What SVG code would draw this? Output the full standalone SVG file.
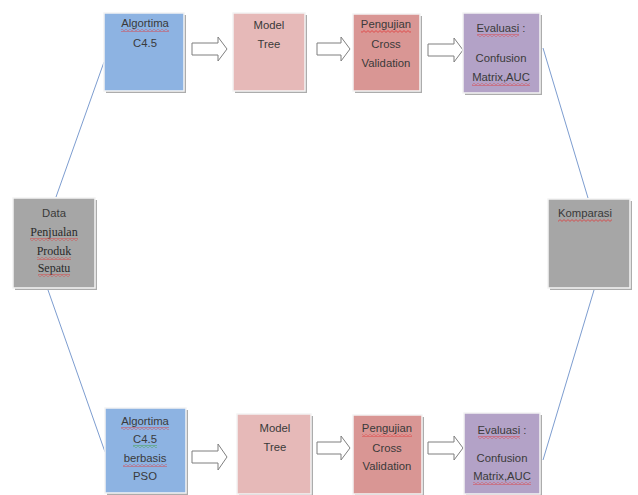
<svg xmlns="http://www.w3.org/2000/svg" width="638" height="495" viewBox="0 0 638 495">
<style>
.sh{fill:#acacac}
.bx{stroke:#f4f4f4;stroke-width:1.5}
.blue{fill:#8db3e2}
.pink{fill:#e6b9b8}
.rose{fill:#d99694}
.lilac{fill:#b3a2c7}
.grey{fill:#a6a6a6}
.t{font-family:"Liberation Sans",Arial,sans-serif;font-size:11.3px;fill:#3a3a3a;text-anchor:middle}
.s{font-family:"Liberation Serif","Times New Roman",serif;font-size:12px;fill:#2a2a2a;text-anchor:middle}
.arr{fill:#ffffff;stroke:#7f7f7f;stroke-width:1}
.con{stroke:#7d9dd0;stroke-width:1;fill:none}
.sq{fill:url(#sqp)}
.sqg{fill:url(#sqg)}
</style>
<defs>
<pattern id="sqp" width="4" height="3" patternUnits="userSpaceOnUse">
<path d="M0,0.6 L2,2.4 L4,0.6" fill="none" stroke="#e03a3a" stroke-width="0.8"/>
</pattern>
<pattern id="sqg" width="4" height="3" patternUnits="userSpaceOnUse">
<path d="M0,0.6 L2,2.4 L4,0.6" fill="none" stroke="#3aa03a" stroke-width="0.8"/>
</pattern>
</defs>
<rect width="638" height="495" fill="#ffffff"/>

<g id="connectors">
<line class="con" x1="104" y1="62" x2="56" y2="197"/>
<line class="con" x1="48" y1="290" x2="105" y2="452"/>
<line class="con" x1="543" y1="48" x2="588" y2="198"/>
<line class="con" x1="594" y1="290" x2="543" y2="460"/>
<path class="arr" d="M192,43 H218 V37 L227,49 L218,61 V55 H192 Z"/>
<path class="arr" d="M317,43 H341 V37 L350,49 L341,61 V55 H317 Z"/>
<path class="arr" d="M428,44 H454 V38 L463,50 L454,62 V56 H428 Z"/>
<path class="arr" d="M192,451 H218 V444 L227,457 L218,470 V463 H192 Z"/>
<path class="arr" d="M317,442 H341 V436 L350,448 L341,460 V454 H317 Z"/>
<path class="arr" d="M428,442 H454 V436 L463,448 L454,460 V454 H428 Z"/>
</g>

<g id="algo-top">
<rect class="sh" x="106" y="15" width="80" height="78"/>
<rect class="bx blue" x="104" y="13" width="80" height="78"/>
<text class="t" x="145" y="27">Algortima</text>
<text class="t" x="145" y="47">C4.5</text>
<rect class="sq" x="121" y="29" width="48" height="3"/>
</g>

<g id="model-top">
<rect class="sh" x="235" y="15" width="72" height="78"/>
<rect class="bx pink" x="233" y="13" width="72" height="78"/>
<text class="t" x="269" y="29">Model</text>
<text class="t" x="269" y="48">Tree</text>
</g>

<g id="uji-top">
<rect class="sh" x="355" y="16" width="67" height="77"/>
<rect class="bx rose" x="353" y="14" width="67" height="77"/>
<text class="t" x="386" y="28">Pengujian</text>
<text class="t" x="386" y="48">Cross</text>
<text class="t" x="386" y="67">Validation</text>
<rect class="sq" x="361" y="30" width="50" height="3"/>
</g>

<g id="eval-top">
<rect class="sh" x="465" y="15" width="77" height="80"/>
<rect class="bx lilac" x="463" y="13" width="77" height="80"/>
<text class="t" x="501" y="32">Evaluasi :</text>
<text class="t" x="501" y="62">Confusion</text>
<text class="t" x="501" y="81">Matrix,AUC</text>
<rect class="sq" x="477" y="34" width="42" height="3"/>
<rect class="sq" x="472" y="83" width="58" height="3"/>
</g>

<g id="data">
<rect class="sh" x="15" y="200" width="82" height="90"/>
<rect class="bx grey" x="13" y="198" width="82" height="90"/>
<text class="t" x="54" y="217">Data</text>
<text class="s" x="54" y="236">Penjualan</text>
<text class="s" x="54" y="255">Produk</text>
<text class="s" x="54" y="272">Sepatu</text>
<rect class="sq" x="30" y="238" width="48" height="3"/>
<rect class="sq" x="37" y="257" width="34" height="3"/>
<rect class="sq" x="38" y="274" width="32" height="3"/>
</g>

<g id="komparasi">
<rect class="sh" x="550" y="201" width="82" height="89"/>
<rect class="bx grey" x="548" y="199" width="82" height="89"/>
<text class="t" x="558" y="217" style="text-anchor:start">Komparasi</text>
<rect class="sq" x="558" y="219" width="54" height="3"/>
</g>

<g id="algo-bottom">
<rect class="sh" x="107" y="410" width="81" height="85"/>
<rect class="bx blue" x="105" y="408" width="81" height="85"/>
<text class="t" x="145" y="425">Algortima</text>
<text class="t" x="145" y="443">C4.5</text>
<text class="t" x="145" y="462">berbasis</text>
<text class="t" x="145" y="480">PSO</text>
<rect class="sq" x="121" y="427" width="48" height="3"/>
<rect class="sqg" x="133" y="445" width="24" height="3"/>
<rect class="sq" x="123" y="464" width="44" height="3"/>
</g>

<g id="model-bottom">
<rect class="sh" x="239" y="416" width="74" height="80"/>
<rect class="bx pink" x="237" y="414" width="74" height="80"/>
<text class="t" x="275" y="432">Model</text>
<text class="t" x="275" y="451">Tree</text>
</g>

<g id="uji-bottom">
<rect class="sh" x="355" y="417" width="69" height="79"/>
<rect class="bx rose" x="353" y="415" width="69" height="79"/>
<text class="t" x="387" y="432">Pengujian</text>
<text class="t" x="387" y="452">Cross</text>
<text class="t" x="387" y="470">Validation</text>
<rect class="sq" x="362" y="434" width="50" height="3"/>
</g>

<g id="eval-bottom">
<rect class="sh" x="466" y="415" width="76" height="81"/>
<rect class="bx lilac" x="464" y="413" width="76" height="81"/>
<text class="t" x="502" y="434">Evaluasi :</text>
<text class="t" x="502" y="462">Confusion</text>
<text class="t" x="502" y="480">Matrix,AUC</text>
<rect class="sq" x="478" y="436" width="42" height="3"/>
<rect class="sq" x="473" y="482" width="58" height="3"/>
</g>
</svg>
